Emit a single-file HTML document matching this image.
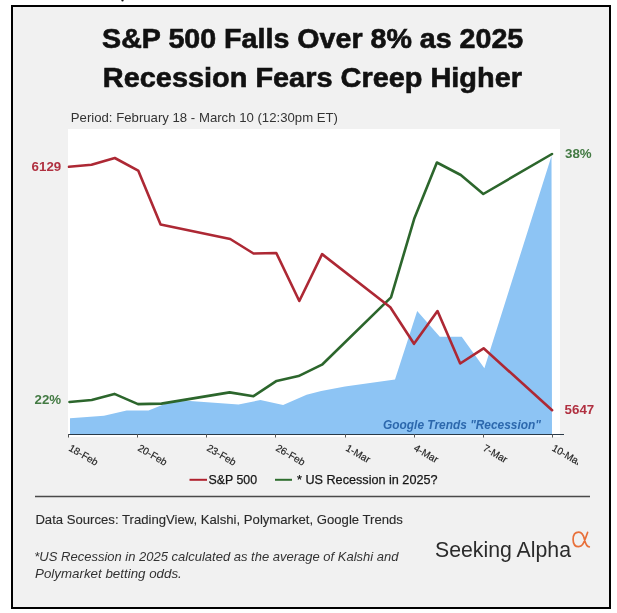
<!DOCTYPE html>
<html><head><meta charset="utf-8">
<style>
html,body{margin:0;padding:0;background:#fff;width:617px;height:613px;overflow:hidden}
svg{display:block;will-change:transform}
text{font-family:"Liberation Sans",sans-serif}
</style></head>
<body>
<svg width="617" height="613" viewBox="0 0 617 613">
  <rect x="0" y="0" width="617" height="613" fill="#ffffff"/>
  <ellipse cx="122.5" cy="0.2" rx="1.1" ry="1.3" fill="#111"/>
  <!-- frame -->
  <rect x="12" y="6" width="598" height="602" fill="#f1f1f1" stroke="#000" stroke-width="2"/>
  <!-- title -->
  <text x="102.1" y="47.8" font-size="27" font-weight="bold" fill="#111" stroke="#111" stroke-width="0.6" textLength="421.2" lengthAdjust="spacingAndGlyphs">S&amp;P 500 Falls Over 8% as 2025</text>
  <text x="102.8" y="86.6" font-size="27" font-weight="bold" fill="#111" stroke="#111" stroke-width="0.6" textLength="419.2" lengthAdjust="spacingAndGlyphs">Recession Fears Creep Higher</text>
  <!-- subtitle -->
  <text x="70.8" y="122" font-size="13" fill="#333" textLength="267.2" lengthAdjust="spacingAndGlyphs">Period: February 18 - March 10 (12:30pm ET)</text>
  <!-- plot area -->
  <rect x="68" y="129" width="492" height="308" fill="#ffffff"/>
  <!-- blue area -->
  <path fill="#8dc4f4" d="M70,434 L70,418.2 L104,415.8 L126.6,410.4 L148.5,410.4 L171,401.6 L190,401.1 L238.5,404.4 L260.4,400 L283.1,404.9 L306.6,394.7 L321.2,391 L345,386.6 L395,379.4 L417.2,311 L439.8,336.7 L461.7,336.7 L484.4,368.2 L551.5,156 L552,434 Z"/>
  <!-- axis -->
  <line x1="68.5" y1="434.5" x2="564" y2="434.5" stroke="#2b3a48" stroke-width="1.2"/>
  <g stroke="#555" stroke-width="1">
    <line x1="68.5" y1="434" x2="68.5" y2="437.5"/>
    <line x1="137.5" y1="434" x2="137.5" y2="437.5"/>
    <line x1="206.5" y1="434" x2="206.5" y2="437.5"/>
    <line x1="275.5" y1="434" x2="275.5" y2="437.5"/>
    <line x1="345.5" y1="434" x2="345.5" y2="437.5"/>
    <line x1="414.5" y1="434" x2="414.5" y2="437.5"/>
    <line x1="483.5" y1="434" x2="483.5" y2="437.5"/>
    <line x1="552.5" y1="434" x2="552.5" y2="437.5"/>
  </g>
  <!-- green line -->
  <polyline fill="none" stroke="#2c662c" stroke-width="2.6" stroke-linejoin="round" stroke-linecap="round"
    points="69.5,402 91.7,400 114.4,393.9 138,404.1 161.5,403.6 229.6,392.4 253.5,396.2 276.6,380.9 298.5,376.1 322,364.7 391,297.4 414.2,218.8 436.9,162.5 460.8,175 483.3,194 552,154"/>
  <!-- red line -->
  <polyline fill="none" stroke="#ad2834" stroke-width="2.6" stroke-linejoin="round" stroke-linecap="round"
    points="69,166.8 91.5,164.8 114.8,158 138.2,170.6 160.6,224.6 230.2,239 253.5,253.5 276.3,253 299.3,301 322.1,254.1 390.3,307.2 414,343.8 437.5,311 460.2,363.5 483.6,348.3 552.1,410.2"/>
  <!-- google trends label -->
  <text x="383" y="429" font-size="12" font-weight="bold" font-style="italic" fill="#2c68ad" textLength="158" lengthAdjust="spacingAndGlyphs">Google Trends "Recession"</text>
  <!-- value labels -->
  <text x="61.2" y="170.9" font-size="13.3" font-weight="bold" fill="#b03040" text-anchor="end">6129</text>
  <text x="61.2" y="403.7" font-size="13.3" font-weight="bold" fill="#437a43" text-anchor="end">22%</text>
  <text x="565" y="157.7" font-size="13.3" font-weight="bold" fill="#437a43">38%</text>
  <text x="564.6" y="413.8" font-size="13.3" font-weight="bold" fill="#b03040">5647</text>
  <!-- x labels -->
  <clipPath id="xc"><rect x="0" y="436" width="578" height="40"/></clipPath>
  <g font-size="10.1" fill="#1e1e1e" stroke="#1e1e1e" stroke-width="0.15" clip-path="url(#xc)">
    <text transform="translate(68.0,450.0) rotate(30)">18-Feb</text>
    <text transform="translate(137.0,450.0) rotate(30)">20-Feb</text>
    <text transform="translate(206.0,450.0) rotate(30)">23-Feb</text>
    <text transform="translate(275.0,450.0) rotate(30)">26-Feb</text>
    <text transform="translate(345.0,450.0) rotate(30)">1-Mar</text>
    <text transform="translate(413.0,450.0) rotate(30)">4-Mar</text>
    <text transform="translate(482.2,450.0) rotate(30)">7-Mar</text>
    <text transform="translate(551.2,450.0) rotate(30)">10-Mar</text>
  </g>
  <!-- legend -->
  <line x1="189.5" y1="479.8" x2="207" y2="479.8" stroke="#b0212e" stroke-width="2"/>
  <text x="208.5" y="484.2" font-size="13" fill="#151515" stroke="#151515" stroke-width="0.25" textLength="48.6" lengthAdjust="spacingAndGlyphs">S&amp;P 500</text>
  <line x1="275" y1="479.8" x2="292" y2="479.8" stroke="#2f6e2f" stroke-width="2"/>
  <text x="297" y="484.2" font-size="13" fill="#151515" stroke="#151515" stroke-width="0.25" textLength="140.5" lengthAdjust="spacingAndGlyphs">* US Recession in 2025?</text>
  <!-- separator -->
  <line x1="35" y1="496.5" x2="590" y2="496.5" stroke="#4a4a4a" stroke-width="1.3"/>
  <!-- footer -->
  <text x="35.4" y="524.4" font-size="13" fill="#2a2a2a" stroke="#2a2a2a" stroke-width="0.12" textLength="367.5" lengthAdjust="spacingAndGlyphs">Data Sources: TradingView, Kalshi, Polymarket, Google Trends</text>
  <text x="34.3" y="560.8" font-size="13" font-style="italic" fill="#333">*US Recession in 2025 calculated as the average of Kalshi and</text>
  <text x="35" y="578.4" font-size="13" font-style="italic" fill="#333" textLength="146.8" lengthAdjust="spacingAndGlyphs">Polymarket betting odds.</text>
  <!-- logo -->
  <text x="435" y="556.5" font-size="21.8" fill="#2b2b2b" textLength="136" lengthAdjust="spacingAndGlyphs">Seeking Alpha</text>
  <path d="M587.6,532.4 C586.2,536.5 584.5,541.8 582.6,544.6 C581.6,546 580.3,546.7 578.8,546.7 C575,546.7 573.1,543.5 573.1,539.4 C573.1,535 575.2,532.1 578.8,532.1 C582.2,532.1 583.6,535.5 584.5,539.5 C585.4,543.5 586.6,546.8 589.3,546.8" fill="none" stroke="#e8703a" stroke-width="1.7" stroke-linecap="round"/>
</svg>
</body></html>
